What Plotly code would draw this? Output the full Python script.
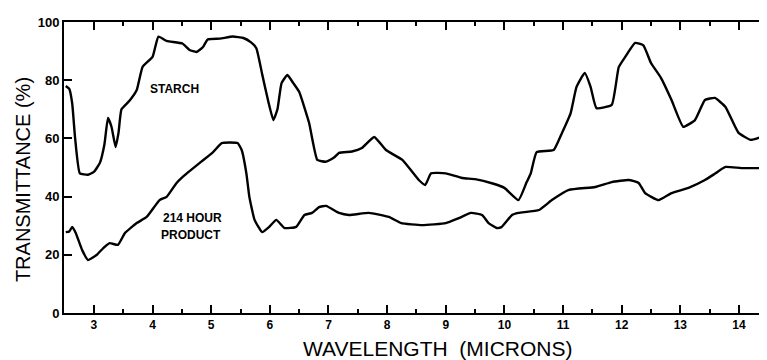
import plotly.graph_objects as go

starch_x = [2.52, 2.58, 2.63, 2.68, 2.76, 2.9, 3.0, 3.1, 3.18, 3.24, 3.3, 3.37, 3.42, 3.47, 3.61, 3.73, 3.83, 4.0, 4.1,
            4.24, 4.51, 4.63, 4.75, 4.86, 4.94, 5.15, 5.37, 5.55, 5.68, 5.77, 5.87, 5.97, 6.06, 6.13, 6.2, 6.3, 6.4,
            6.5, 6.67, 6.81, 6.96, 7.1, 7.18, 7.4, 7.57, 7.78, 7.98, 8.26, 8.54, 8.65, 8.75, 9.0, 9.28, 9.5, 9.8,
            10.0, 10.24, 10.38, 10.45, 10.55, 10.84, 10.98, 11.13, 11.23, 11.37, 11.47, 11.57, 11.83, 11.95, 12.06,
            12.23, 12.37, 12.5, 12.67, 12.85, 13.05, 13.25, 13.42, 13.59, 13.77, 13.99, 14.2, 14.45]
starch_y = [78, 77, 72, 60, 48, 47.5, 48.5, 51.5, 58, 67, 64, 57, 62, 70, 73, 76.6, 84.6, 88, 95,
            93.5, 92.6, 90.4, 89.7, 91.4, 94, 94.3, 95, 94.5, 93, 91, 82, 73, 66.3, 70, 79, 81.8, 79,
            76, 65.3, 52.6, 52, 53.5, 55, 55.5, 56.7, 60.5, 56, 52.6, 45.7, 44, 48, 48, 46.4, 46, 44.5,
            43, 38.8, 45, 48, 55.3, 56, 61.8, 68.7, 77.7, 82.5, 77.7, 70.4, 71.5, 84.5, 88,
            92.8, 92, 85.9, 80.8, 73.2, 64, 66.3, 73.2, 73.9, 70.8, 62, 59.5, 61]

product_x = [2.52, 2.58, 2.63, 2.69, 2.8, 2.9, 3.05, 3.16, 3.27, 3.41, 3.53, 3.73, 3.9, 4.12, 4.24, 4.41, 4.51,
             4.8, 5.02, 5.18, 5.45, 5.52, 5.6, 5.65, 5.74, 5.87, 5.99, 6.11, 6.25, 6.45, 6.59, 6.72, 6.84, 6.96,
             7.18, 7.35, 7.69, 8.03, 8.24, 8.6, 9.0, 9.22, 9.43, 9.62, 9.73, 9.87, 9.95, 10.13, 10.24, 10.59,
             10.81, 11.1, 11.55, 11.83, 12.12, 12.29, 12.4, 12.63, 12.85, 13.14, 13.42, 13.6, 13.77, 14.04, 14.45]
product_y = [27.8, 28, 29.6, 27.5, 21.6, 18.2, 20, 22.3, 24, 23.4, 27.5, 30.9, 33, 38.8, 39.9, 44.7, 46.7,
             51.5, 55, 58.4, 58.4, 56, 48, 40, 32, 27.8, 29.6, 32, 29.2, 29.6, 33.7, 34.4, 36.4, 36.8,
             34.4, 33.7, 34.4, 33, 30.9, 30.2, 30.9, 32.6, 34.4, 33.7, 30.9, 29.2, 29.5, 33.7, 34.4, 35.4,
             38.8, 42.3, 43.3, 45, 45.7, 44.7, 41.2, 38.8, 41.2, 43, 45.7, 48, 50.2, 49.8, 49.8]

labels_text = ["STARCH", "214 HOUR", "PRODUCT"]
labels_x = [4.38, 4.68, 4.65]
labels_y = [77, 32.6, 26.8]

x_title = "WAVELENGTH  (MICRONS)"
y_title = "TRANSMITTANCE (%)"

x_ticks = list(range(3, 15))
y_ticks = [0, 20, 40, 60, 80, 100]

fig = go.Figure()
fig.add_trace(go.Scatter(x=starch_x, y=starch_y, mode="lines",
                         line=dict(color="black", width=2.4, shape="spline", smoothing=0.4),
                         showlegend=False, hoverinfo="skip"))
fig.add_trace(go.Scatter(x=product_x, y=product_y, mode="lines",
                         line=dict(color="black", width=2.4, shape="spline", smoothing=0.4),
                         showlegend=False, hoverinfo="skip"))

for t, x, y in zip(labels_text, labels_x, labels_y):
    fig.add_annotation(x=x, y=y, text="<b>" + t + "</b>", showarrow=False,
                       font=dict(family="Liberation Sans, Arial", size=12, color="black"))

# axis titles placed as annotations to match the reference positions
fig.add_annotation(xref="paper", yref="paper", x=0.535, y=-0.122, text=x_title, showarrow=False,
                   xanchor="center", yanchor="middle",
                   font=dict(family="Liberation Sans, Arial", size=21, color="black"))
fig.add_annotation(xref="paper", yref="paper", x=-0.0585, y=0.457, text=y_title, showarrow=False,
                   textangle=-90, xanchor="center", yanchor="middle",
                   font=dict(family="Liberation Sans, Arial", size=20, color="black"))

# page body has an 8px default margin, so the figure is sized to fit the window
fig.update_layout(
    width=759, height=352,
    margin=dict(l=56, r=2, t=14, b=47),
    paper_bgcolor="white", plot_bgcolor="white",
    font=dict(family="Liberation Sans, Arial", color="black"),
    xaxis=dict(range=[2.49, 14.41], tickmode="array", tickvals=x_ticks,
               ticktext=["<b>%d</b>" % v for v in x_ticks],
               ticks="inside", ticklen=8, tickwidth=1.5, tickcolor="black",
               minor=dict(tickvals=[v + 0.5 for v in range(2, 15)], ticks="inside", ticklen=4,
                          tickwidth=1.5, tickcolor="black"),
               showline=True, linecolor="black", linewidth=2, mirror="allticks",
               showgrid=False, zeroline=False,
               tickfont=dict(size=12)),
    yaxis=dict(range=[0, 100], tickmode="array", tickvals=y_ticks,
               ticktext=["<b>%d</b>" % v for v in y_ticks],
               ticks="inside", ticklen=8, tickwidth=1.5, tickcolor="black",
               showline=True, linecolor="black", linewidth=2, mirror=True,
               showgrid=False, zeroline=False,
               tickfont=dict(size=13)),
)

fig.write_html("out.html")
